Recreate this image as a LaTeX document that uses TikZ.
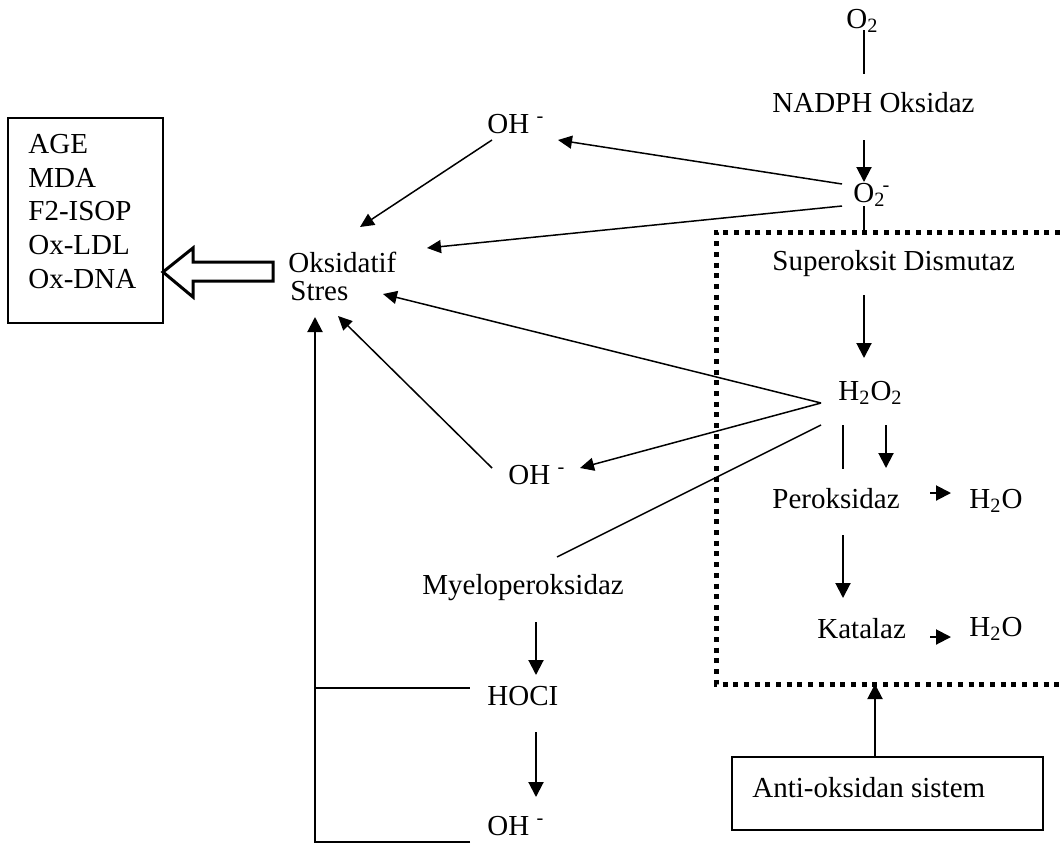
\documentclass[tikz,border=0pt]{standalone}
\usepackage{fontspec}
\setmainfont{Liberation Serif}
\usetikzlibrary{arrows.meta}
\begin{document}
\begin{tikzpicture}[x=0.5pt,y=-0.5pt,
  lbl/.style={inner sep=0pt,anchor=base west,font=\fontsize{14.5}{16}\selectfont},
  ln/.style={line width=0.75pt},
  arr/.style={line width=0.75pt,-{Triangle[length=7pt,width=6.5pt]}},
  thickarr/.style={line width=1pt,-{Triangle[length=7.5pt,width=7.5pt]}},
  boxline/.style={line width=0.75pt},
  dotbox/.style={line width=2.5pt,dash pattern=on 2.5pt off 2.85pt}]
\useasboundingbox (0,0) rectangle (1060,847);
% texts
\node[lbl] (o2) at (846,28) {O\textsubscript{2}};
\node[lbl] (nadph) at (772,112) {NADPH Oksidaz};
\node[lbl] (o2m) at (853,202) {O\textsubscript{2}\kern-1.5pt\textsuperscript{-}};
\node[lbl] (ohtop) at (487,133) {OH \textsuperscript{-}};
\node[lbl] (oks) at (288,272) {Oksidatif};
\node[lbl] (stres) at (290,300) {Stres};
\node[lbl] (age) at (28,153) {AGE};
\node[lbl] (mda) at (28,187) {MDA};
\node[lbl] (f2) at (28,220) {F2-ISOP};
\node[lbl] (oxldl) at (28,254) {Ox-LDL};
\node[lbl] (oxdna) at (28,288) {Ox-DNA};
\node[lbl] (sod) at (772,270) {Superoksit Dismutaz};
\node[lbl] (h2o2) at (838,400) {H\textsubscript{2}O\textsubscript{2}};
\node[lbl] (ohmid) at (508,484) {OH \textsuperscript{-}};
\node[lbl] (myelo) at (422,594) {Myeloperoksidaz};
\node[lbl] (hocl) at (487,705) {HOCI};
\node[lbl] (ohbot) at (487,835) {OH \textsuperscript{-}};
\node[lbl] (perok) at (772,508) {Peroksidaz};
\node[lbl] (wa) at (969,508) {H\textsubscript{2}O};
\node[lbl] (katal) at (817,638) {Katalaz};
\node[lbl] (wb) at (969,636) {H\textsubscript{2}O};
\node[lbl] (anti) at (752,797) {Anti-oksidan sistem};
% boxes
\draw[boxline] (8,118) rectangle (163,323);
\draw[boxline] (732,757) rectangle (1043,830);
\draw[dotbox] (1060,232) -- (716,232) -- (716,684) -- (1060,684);
% hollow arrow
\draw[line width=1.5pt,line join=miter] (273,262) -- (193,262) -- (193,248) -- (163,272) -- (193,297) -- (193,281) -- (273,281) -- cycle;
% coordinates
\coordinate (o2b) at (864,30);
\coordinate (nadt) at (864,74);
\coordinate (nadb) at (864,140);
\coordinate (o2mt) at (864,182);
\coordinate (o2mb) at (864,206);
\coordinate (sodt) at (864,232);
\coordinate (o2mlu) at (842,184);
\coordinate (o2mll) at (842,206);
\coordinate (ohtopr) at (558,140);
\coordinate (ohtopl) at (492,140);
\coordinate (oksr) at (427,248);
\coordinate (oksu) at (360,227);
\coordinate (sodb) at (864,295);
\coordinate (h2o2t) at (864,358);
\coordinate (h2o2v) at (821,403);
\coordinate (h2o2w) at (821,425);
\coordinate (stresr) at (383,294);
\coordinate (ohmidr) at (580,468);
\coordinate (ohmidl) at (492,468);
\coordinate (stresb) at (338,316);
\coordinate (myelot) at (557,557);
\coordinate (stresl) at (315,317);
\coordinate (bl) at (315,842);
\coordinate (br) at (470,842);
\coordinate (ml) at (315,688);
\coordinate (mr) at (470,688);
\coordinate (myelob) at (536,622);
\coordinate (hoclt) at (536,675);
\coordinate (hoclb) at (536,732);
\coordinate (ohbott) at (536,797);
\coordinate (h2o2bl) at (843,425);
\coordinate (perokl) at (843,469);
\coordinate (h2o2br) at (886,425);
\coordinate (perokr) at (886,468);
\coordinate (perokb) at (843,535);
\coordinate (katalt) at (843,598);
\coordinate (pa) at (930,493);
\coordinate (pb) at (951,493);
\coordinate (ka) at (930,637);
\coordinate (kb) at (951,637);
\coordinate (antit) at (875,757);
\coordinate (dotb) at (875,684);
% connectors
\draw[ln] (o2b) -- (nadt);
\draw[thickarr] (nadb) -- (o2mt);
\draw[ln] (o2mb) -- (sodt);
\draw[arr] (o2mlu) -- (ohtopr);
\draw[arr] (o2mll) -- (oksr);
\draw[arr] (ohtopl) -- (oksu);
\draw[thickarr] (sodb) -- (h2o2t);
\draw[arr] (h2o2v) -- (stresr);
\draw[arr] (h2o2v) -- (ohmidr);
\draw[ln] (h2o2w) -- (myelot);
\draw[arr] (ohmidl) -- (stresb);
\draw[line width=1pt,-{Triangle[length=7.5pt,width=7.5pt]}] (br) -- (bl) -- (stresl);
\draw[line width=1pt] (ml) -- (mr);
\draw[thickarr] (myelob) -- (hoclt);
\draw[thickarr] (hoclb) -- (ohbott);
\draw[ln] (h2o2bl) -- (perokl);
\draw[thickarr] (h2o2br) -- (perokr);
\draw[thickarr] (perokb) -- (katalt);
\draw[thickarr] (pa) -- (pb);
\draw[thickarr] (ka) -- (kb);
\draw[thickarr] (antit) -- (dotb);
\end{tikzpicture}
\end{document}
